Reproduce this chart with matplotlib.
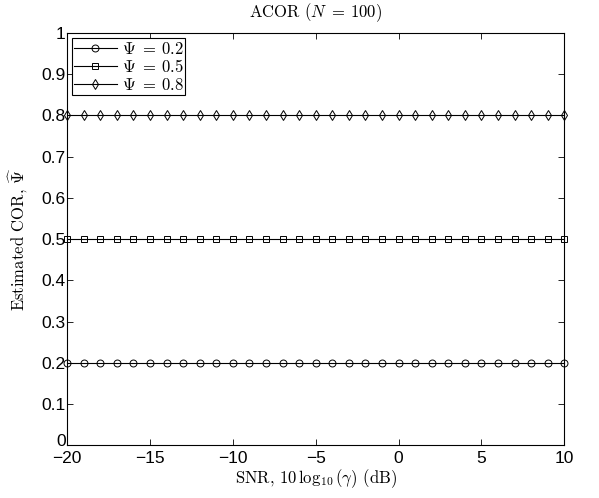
import matplotlib
matplotlib.use('Agg')
import matplotlib.pyplot as plt
import matplotlib.transforms as mtransforms

plt.rcParams['mathtext.fontset'] = 'cm'
plt.rcParams['axes.unicode_minus'] = False

# SNR grid (dB)
snr_db = [-20, -19, -18, -17, -16, -15, -14, -13, -12, -11, -10,
          -9, -8, -7, -6, -5, -4, -3, -2, -1, 0,
          1, 2, 3, 4, 5, 6, 7, 8, 9, 10]

# estimated COR for each true Psi
cor_02 = [0.2, 0.2, 0.2, 0.2, 0.2, 0.2, 0.2, 0.2, 0.2, 0.2, 0.2,
          0.2, 0.2, 0.2, 0.2, 0.2, 0.2, 0.2, 0.2, 0.2, 0.2,
          0.2, 0.2, 0.2, 0.2, 0.2, 0.2, 0.2, 0.2, 0.2, 0.2]
cor_05 = [0.5, 0.5, 0.5, 0.5, 0.5, 0.5, 0.5, 0.5, 0.5, 0.5, 0.5,
          0.5, 0.5, 0.5, 0.5, 0.5, 0.5, 0.5, 0.5, 0.5, 0.5,
          0.5, 0.5, 0.5, 0.5, 0.5, 0.5, 0.5, 0.5, 0.5, 0.5]
cor_08 = [0.8, 0.8, 0.8, 0.8, 0.8, 0.8, 0.8, 0.8, 0.8, 0.8, 0.8,
          0.8, 0.8, 0.8, 0.8, 0.8, 0.8, 0.8, 0.8, 0.8, 0.8,
          0.8, 0.8, 0.8, 0.8, 0.8, 0.8, 0.8, 0.8, 0.8, 0.8]

series = [(cor_02, 'o', r'$\Psi\ =\,0.2$'),
          (cor_05, 's', r'$\Psi\ =\,0.5$'),
          (cor_08, 'd', r'$\Psi\ =\,0.8$')]

fig = plt.figure(figsize=(5.99, 4.98), dpi=100)
ax = fig.add_axes([0.112, 0.106, 0.830, 0.828])

for vals, mk, lab in series:
    ax.plot(snr_db, vals, color='black', lw=0.8, marker=mk,
            markersize=5 if mk != 's' else 4, markerfacecolor='none',
            markeredgewidth=0.7, label=lab, clip_on=False)

ax.set_xlim(-20, 10)
ax.set_ylim(0, 1)
ax.set_xticks([-20, -15, -10, -5, 0, 5, 10])
ax.set_xticklabels(['\u221220', '\u221215', '\u221210', '\u22125', '0', '5', '10'])
ax.set_yticks([0, 0.1, 0.2, 0.3, 0.4, 0.5, 0.6, 0.7, 0.8, 0.9, 1])
ax.set_yticklabels(['0', '0.1', '0.2', '0.3', '0.4', '0.5', '0.6', '0.7', '0.8', '0.9', '1'])
ax.tick_params(direction='in', length=4, width=0.6, top=True, right=True,
               labelsize=12.5)
ax.tick_params(axis='x', pad=4)
ax.tick_params(axis='y', pad=1)
for lbl in ax.get_xticklabels() + ax.get_yticklabels():
    lbl.set_family('Liberation Sans')
# MATLAB puts the bottom "0" a touch higher
zero = ax.get_yticklabels()[0]
zero.set_transform(zero.get_transform() +
                   mtransforms.ScaledTranslation(0, 4 / 72, fig.dpi_scale_trans))
for sp in ax.spines.values():
    sp.set_linewidth(0.8)

ax.set_title(r'ACOR ($N\ =\,100$)', family='cmr10', fontsize=12, pad=11)
ax.set_xlabel(r'SNR, $10\,\log_{10}(\gamma)$ (dB)', family='cmr10',
              fontsize=12, labelpad=1)
ax.set_ylabel(r'Estimated COR, $\widehat{\Psi}$', family='cmr10',
              fontsize=12, labelpad=8)

leg = ax.legend(loc='upper left', fontsize=12, frameon=True, fancybox=False,
                edgecolor='black', framealpha=1, borderpad=0.1,
                labelspacing=0.0, handlelength=2.6, handletextpad=0.3,
                borderaxespad=0.3)
leg.get_frame().set_linewidth(0.8)

fig.savefig('out.png', dpi=100)
